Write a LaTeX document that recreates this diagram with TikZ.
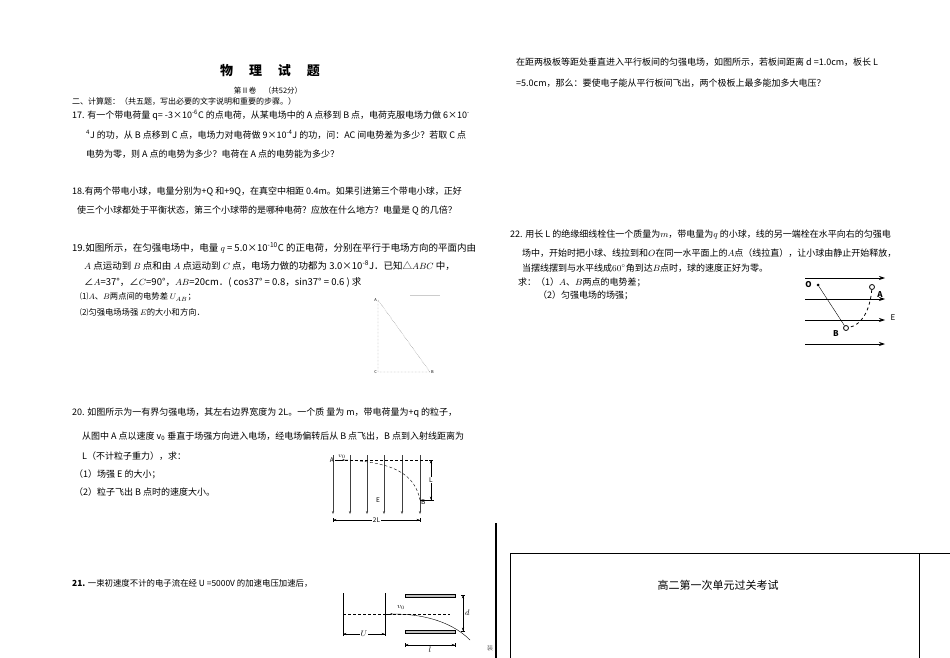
\documentclass[tikz,border=0pt]{standalone}
\usepackage{fontspec}
\setmainfont{Noto Sans CJK SC}
\usetikzlibrary{arrows.meta,positioning}

\begin{document}
\begin{tikzpicture}[x=1pt, y=-1pt,
        txt/.style={anchor=west, inner sep=0pt, font=\fontsize{9}{10}\selectfont},
        lbl/.style={inner sep=0pt, font=\fontsize{6.5}{7}\selectfont\itshape},
        field/.style={-{Stealth[length=3pt]}, thin, black!75},
        dim/.style={{Bar[width=4pt]Stealth[length=3pt]}-{Stealth[length=3pt]Bar[width=4pt]}, thin},
        plate/.style={draw, fill=black!25, thin},
    ]
        \useasboundingbox (0,0) rectangle (950,658);
        \fill[white] (0,0) rectangle (950,658);

        % header
        \node[inner sep=0pt, font=\fontsize{13}{15}\selectfont\bfseries] (title) at (270,71) {物\quad\ 理\quad\ 试\quad\ 题};
        \node[inner sep=0pt, font=\fontsize{7.5}{8}\selectfont] (part) at (268,91) {第Ⅱ卷\quad （共52分）};
        \node[txt, font=\fontsize{8}{9}\selectfont] (sec) at (72,102) {二、计算题：（共五题，写出必要的文字说明和重要的步骤。）};

        % 17, 18
        \node[txt] (q17a) at (72,115) {17. 有一个带电荷量 q= -3×10\textsuperscript{-6}C 的点电荷，从某电场中的 A 点移到 B 点，电荷克服电场力做 6×10\textsuperscript{-}};
        \node[txt] (q17b) at (86,135) {\textsuperscript{4}J 的功，从 B 点移到 C 点，电场力对电荷做 9×10\textsuperscript{-4}J 的功，问：AC 间电势差为多少？若取 C 点};
        \node[txt] (q17c) at (86,154) {电势为零，则 A 点的电势为多少？电荷在 A 点的电势能为多少？};
        \node[txt] (q18a) at (72,192) {18.有两个带电小球，电量分别为+Q 和+9Q，在真空中相距 0.4m。如果引进第三个带电小球，正好};
        \node[txt] (q18b) at (77,211) {使三个小球都处于平衡状态，第三个小球带的是哪种电荷？应放在什么地方？电量是 Q 的几倍？};

        % 19
        \node[txt, font=\fontsize{9.5}{10}\selectfont] (q19a) at (72,248) {19.如图所示，在匀强电场中，电量 $q$ = 5.0×10\textsuperscript{-10}C 的正电荷，分别在平行于电场方向的平面内由};
        \node[txt, font=\fontsize{9.5}{10}\selectfont] (q19b) at (84,266) {$A$ 点运动到 $B$ 点和由 $A$ 点运动到 $C$ 点，电场力做的功都为 3.0×10\textsuperscript{-8}J．已知△$ABC$ 中，};
        \node[txt, font=\fontsize{9.5}{10}\selectfont] (q19c) at (84,282) {∠$A$=37°，∠$C$=90°，$AB$=20cm．( cos37° = 0.8，sin37° = 0.6 ) 求};
        \node[txt, font=\fontsize{8.3}{9}\selectfont] (q19d) at (80,297) {⑴$A$、$B$两点间的电势差 $U_{AB}$；};
        \node[txt, font=\fontsize{8.3}{9}\selectfont] (q19e) at (80,312) {⑵匀强电场场强 $E$的大小和方向．};
        \coordinate (ptA) at (378,300);
        \coordinate (ptC) at (378,372);
        \coordinate (ptB) at (430,372);
        \draw[densely dotted, black!60] (ptA) -- (ptC) -- (ptB) -- cycle;
        \node[lbl, font=\fontsize{4}{5}\selectfont, left=1pt of ptA] {A};
        \node[lbl, font=\fontsize{4}{5}\selectfont, left=1pt of ptC] {C};
        \node[lbl, font=\fontsize{4}{5}\selectfont, right=1pt of ptB] {B};
        \draw[black!20] (410,295) -- (440,295);

        % 20
        \node[txt] (q20a) at (72,413) {20. 如图所示为一有界匀强电场，其左右边界宽度为 2L。一个质\ 量为 m，带电荷量为+q 的粒子，};
        \node[txt] (q20b) at (82,436) {从图中 A 点以速度 v\textsubscript{0} 垂直于场强方向进入电场，经电场偏转后从 B 点飞出，B 点到入射线距离为};
        \node[txt] (q20c) at (82,456) {L（不计粒子重力），求：};
        \node[txt] (q20d) at (74,474) {（1）场强 E 的大小；};
        \node[txt] (q20e) at (74,492) {（2）粒子飞出 B 点时的速度大小。};
        \foreach \i/\xx in {1/333,2/350,3/367,4/384,5/402,6/420}
            \draw[field] (\xx,455) -- (\xx,514);
        \coordinate (inA) at (335,460);
        \coordinate (outB) at (420,500);
        \draw[densely dashed, thin] (inA) -- (432,460);
        \draw[densely dashed, thin] (345,460) .. controls (395,462) and (415,475) .. (outB);
        \draw[-{Stealth[length=2.5pt]}, thin] (inA) -- (345,460);
        \node[lbl, left=1pt of inA] {A};
        \node[lbl, above=1pt of inA, xshift=7pt] {$v_0$};
        \node[lbl, below right=0pt and 1pt of outB] {B};
        \node[lbl] (eA) at (378,500) {E};
        \draw[thin] (outB) -- (434,500);
        \draw[dim] (431,460) -- (431,500) node[midway, lbl, fill=white, inner sep=1pt] {L};
        \draw[dim] (333,520) -- (420,520) node[midway, lbl, fill=white, inner sep=1pt] {2L};

        % 21
        \node[txt, font=\fontsize{8.4}{9}\selectfont] (q21a) at (72,583) {\textbf{21.} 一束初速度不计的电子流在经 U =5000V 的加速电压加速后，};
        \draw[thin] (343,593) -- (343,636);
        \draw[thin] (385,593) -- (385,636);
        \node[plate, minimum width=50pt, minimum height=3pt, inner sep=0pt] (topplate) at (430,595.5) {};
        \node[plate, minimum width=50pt, minimum height=3pt, inner sep=0pt] (botplate) at (430,631.5) {};
        \coordinate (gun) at (385,614);
        \draw[densely dashed, thin] (343,614) -- (450,614);
        \draw[-{Stealth[length=2.5pt]}, thin] (gun) -- (393,614);
        \draw[thin] (393,614) .. controls (430,614) and (455,625) .. (470,640);
        \node[lbl, font=\fontsize{7}{8}\selectfont\itshape] at (401,607) {$v_0$};
        \draw[dim] (463,595) -- (463,631) node[midway, right=2pt, lbl, font=\fontsize{8}{9}\selectfont] {$d$};
        \draw[dim] (343,634) -- (385,634) node[midway, fill=white, lbl, font=\fontsize{8}{9}\selectfont, inner sep=1pt] {$U$};
        \draw[dim] (405,645) -- (455,645) node[midway, below=2pt, lbl, font=\fontsize{8}{9}\selectfont] {$l$};

        % right column
        \node[txt] (q21b) at (516,62) {在距两极板等距处垂直进入平行板间的匀强电场，如图所示，若板间距离 d =1.0cm，板长 L};
        \node[txt] (q21c) at (516,83) {=5.0cm，那么：要使电子能从平行板间飞出，两个极板上最多能加多大电压？};

        % 22
        \node[txt] (q22a) at (510,235) {22. 用长 L 的绝缘细线栓住一个质量为$m$，带电量为$q$ 的小球，线的另一端栓在水平向右的匀强电};
        \node[txt] (q22b) at (522,253) {场中，开始时把小球、线拉到和$O$在同一水平面上的$A$点（线拉直），让小球由静止开始释放，};
        \node[txt] (q22c) at (522,268) {当摆线摆到与水平线成$60^{\circ}$角到达$B$点时，球的速度正好为零。};
        \node[txt] (q22d) at (518,282) {求：（1）$A$、$B$两点的电势差；};
        \node[txt] (q22e) at (538,295) {（2）匀强电场的场强；};
        \foreach \yy in {278,299,320,344}
            \draw[-{Stealth[length=6pt,width=4pt]}, thick] (805,\yy) -- (885,\yy);
        \coordinate (ptO) at (818,285);
        \node[circle, fill, inner sep=0pt, minimum size=3pt] (dotO) at (ptO) {};
        \node[draw, thick, circle, inner sep=0pt, minimum size=5pt] (ballA) at (872,287) {};
        \node[draw, thick, circle, inner sep=0pt, minimum size=5pt] (ballB) at (846,328) {};
        \draw[thin] (dotO) -- (ballB);
        \draw[thick, dashed] (ballA) .. controls (870,310) and (862,325) .. (ballB);
        \node[font=\fontsize{8}{9}\selectfont\bfseries\itshape, left=1pt of dotO] {O};
        \node[font=\fontsize{8}{9}\selectfont\bfseries\itshape, inner sep=0pt] at (880,295) {A};
        \node[font=\fontsize{8}{9}\selectfont\bfseries\itshape, inner sep=0pt] at (836,334) {B};
        \node[font=\fontsize{8}{9}\selectfont\itshape, inner sep=0pt] at (893,318) {E};

        % bottom frame
        \draw[line width=1.2pt] (496,523) -- (496,658);
        \draw[thin] (510,658) |- (950,553);
        \draw[thin] (919,553) -- (919,658);
        \node[inner sep=0pt, font=\fontsize{11}{12}\selectfont] (exam) at (718,585) {高二第一次单元过关考试};
        \node[inner sep=0pt, font=\fontsize{6}{7}\selectfont, black!60] (zhuang) at (490,648) {装};
    \end{tikzpicture}
\end{document}
